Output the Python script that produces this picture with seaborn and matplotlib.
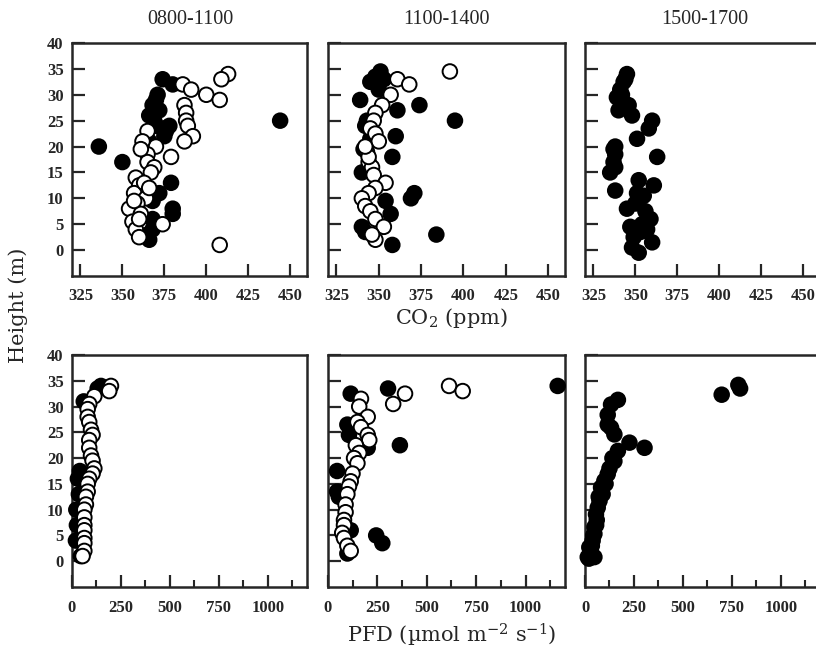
import pandas as pd
import seaborn as sns
import matplotlib.pyplot as plt
from matplotlib.ticker import MultipleLocator

periods = ['0800-1100', '1100-1400', '1500-1700']

# ---- CO2 (ppm) vs height (m) ----
co2_am_closed_x = [336, 350, 374, 444, 379, 380, 380, 366, 370, 368, 366, 374, 376, 370, 367, 368, 368, 365, 380,
                   372, 369, 375, 378, 366, 368, 372, 371]
co2_am_closed_y = [20, 17, 33, 25, 13, 8, 7, 2, 29, 28, 26, 23.5, 23, 24, 10.5, 9.5, 4, 3, 32,
                   27, 25, 22, 24, 21, 6, 11, 30]
co2_am_open_x = [413, 409, 400, 408, 386, 391, 387, 388, 388, 389, 392, 387, 379, 408, 365, 370, 365, 365,
                 369, 367, 358, 360, 357, 364, 359, 354, 361, 356, 358, 360, 374,
                 362, 361, 363, 360, 366, 357]
co2_am_open_y = [34, 33, 30, 29, 32, 31, 28, 26.5, 25, 24, 22, 21, 18, 1, 23, 20, 18.5, 17,
                 16, 15, 14, 12.5, 11, 10, 9, 8, 7, 5.5, 4, 2.5, 5,
                 21, 19.5, 13, 6, 12, 9.5]

co2_mid_closed_x = [374, 395, 371, 369, 384, 358, 339, 351, 348, 345, 353, 360, 358, 342, 341, 340, 354, 357,
                    340, 342, 361, 345, 343, 350]
co2_mid_closed_y = [28, 25, 11, 10, 3, 1, 29, 34.5, 33.5, 32.5, 33, 22, 18, 24, 19.5, 15, 9.5, 7,
                    4.5, 3.5, 27, 21.5, 25, 31]
co2_mid_open_x = [392, 361, 368, 357, 352, 348, 347, 345, 348, 350, 343, 344, 346, 347, 354, 348, 344, 340,
                  342, 345, 348, 353, 348, 346, 344, 342]
co2_mid_open_y = [34.5, 33, 32, 30, 28, 26.5, 25, 23.5, 22.5, 21, 19, 17, 16, 14.5, 13, 12, 11, 10,
                  8.5, 7.5, 6, 4.5, 2, 3, 18, 20]

co2_pm_closed_x = [345, 343, 341, 339, 342, 346, 340, 348, 360, 358, 351, 338, 338, 363, 335, 338, 338, 352,
                   361, 355, 345, 359, 347, 354, 360, 348, 352, 353, 356,
                   344, 342, 337, 337, 351, 350, 357, 349]
co2_pm_closed_y = [34, 32.5, 31, 29.5, 28.5, 28, 27, 26, 25, 23.5, 21.5, 20, 18.5, 18, 15, 16, 11.5, 13.5,
                   12.5, 10.5, 8, 6, 4.5, 5, 1.5, 0.5, -0.5, 3.5, 7.5,
                   33, 30, 17, 19.5, 11, 9, 4, 2.5]

# ---- PFD (umol m-2 s-1) vs height (m) ----
pfd_am_closed_x = [148, 131, 40, 30, 35, 22, 25, 20, 60, 45]
pfd_am_closed_y = [34, 33.5, 17.5, 16, 13, 10, 7, 4, 31, 1]
pfd_am_open_x = [199, 190, 114, 88, 80, 80, 88, 97, 105, 88, 88, 97, 105, 114, 105, 88, 80, 80, 71, 71,
                 63, 63, 63, 63, 63, 63, 63, 54]
pfd_am_open_y = [34, 33, 32, 30.5, 29.5, 28, 27, 25.5, 24.5, 23.5, 22, 20.5, 19.5, 18, 17, 16, 15, 13.5, 12.5, 11,
                 10, 8.5, 7, 6, 4.5, 3.5, 2, 1]

pfd_mid_closed_x = [1163, 304, 364, 244, 275, 115, 46, 46, 55, 98, 115, 98, 106, 201]
pfd_mid_closed_y = [34, 33.5, 22.5, 5, 3.5, 32.5, 17.5, 13.5, 12.5, 1.5, 6, 26.5, 24.5, 22]
pfd_mid_open_x = [613, 682, 390, 330, 167, 158, 201, 149, 167, 201, 209, 141, 158, 132, 149, 124, 115, 106,
                  98, 89, 89, 81, 81, 72, 81, 98, 115]
pfd_mid_open_y = [34, 33, 32.5, 30.5, 31.5, 30, 28, 27, 26, 24.5, 23.5, 22.5, 21, 20, 19, 17, 15.5, 14.5,
                  13, 11, 9.5, 8, 7, 5.5, 4.5, 3, 2]

pfd_pm_closed_x = [792, 783, 698, 227, 304, 168, 133, 116, 116, 150, 168, 150, 116, 82, 74, 56, 48, 39, 31, 48,
                   133, 99, 65, 48, 22, 14, 60, 90, 105, 125, 140, 35, 57, 70, 42, 28, 20]
pfd_pm_closed_y = [33.5, 34.2, 32.3, 23, 22, 31.3, 30.4, 28.4, 26.5, 24.6, 21.4, 19.4, 16.9, 14.3, 11.7, 9.1, 6.6, 4, 1.4, 0.8,
                   25.9, 15.6, 10.4, 5.3, 2.7, 0.8, 8, 13, 15, 18, 20, 3, 7, 12.5, 5, 2, 0.5]


def panel_frame(cx, cy, ox=(), oy=()):
    # closed symbols first so open ones sit on top
    closed = pd.DataFrame({'val': cx, 'height': cy, 'kind': 'closed'})
    opened = pd.DataFrame({'val': list(ox), 'height': list(oy), 'kind': 'open'})
    return pd.concat([closed, opened], ignore_index=True)


panels = {
    (0, 0): panel_frame(co2_am_closed_x, co2_am_closed_y, co2_am_open_x, co2_am_open_y),
    (0, 1): panel_frame(co2_mid_closed_x, co2_mid_closed_y, co2_mid_open_x, co2_mid_open_y),
    (0, 2): panel_frame(co2_pm_closed_x, co2_pm_closed_y),
    (1, 0): panel_frame(pfd_am_closed_x, pfd_am_closed_y, pfd_am_open_x, pfd_am_open_y),
    (1, 1): panel_frame(pfd_mid_closed_x, pfd_mid_closed_y, pfd_mid_open_x, pfd_mid_open_y),
    (1, 2): panel_frame(pfd_pm_closed_x, pfd_pm_closed_y),
}

sns.set_style('ticks')
plt.rcParams['font.family'] = ['Liberation Serif', 'DejaVu Serif']
plt.rcParams['mathtext.fontset'] = 'dejavuserif'

W, H = 816, 654
fig = plt.figure(figsize=(W / 100, H / 100), dpi=100)

col_px = [(72, 307), (328, 565), (585, 820)]
row_px = [(43, 276), (355, 587)]

for (r, c), df in panels.items():
    x0, x1 = col_px[c]
    y0, y1 = row_px[r]
    ax = fig.add_axes([x0 / W, 1 - y1 / H, (x1 - x0) / W, (y1 - y0) / H])
    sns.scatterplot(data=df, x='val', y='height', hue='kind', palette={'closed': 'black', 'open': 'white'},
                    edgecolor='black', linewidth=1.4, s=110, legend=False, ax=ax, zorder=3, clip_on=False)
    ax.set_ylim(-5, 40)
    ax.set_yticks(range(0, 41, 5))
    if r == 0:
        ax.set_xlim(320, 460)
        ax.set_xticks([325, 350, 375, 400, 425, 450])
    else:
        ax.set_xlim(0, 1200)
        ax.set_xticks([0, 250, 500, 750, 1000])
        ax.xaxis.set_minor_locator(MultipleLocator(125))
        ax.tick_params(axis='x', which='minor', direction='in', length=5, width=1.5)
    ax.set_xlabel('')
    ax.set_ylabel('')
    ax.tick_params(axis='both', which='major', direction='in', length=9, width=1.6, labelsize=12)
    ax.tick_params(axis='x', pad=9)
    ax.tick_params(axis='y', pad=6, labelleft=(c == 0))
    for lab in ax.get_xticklabels() + ax.get_yticklabels():
        lab.set_fontweight('bold')
    for sp in ax.spines.values():
        sp.set_linewidth(1.8)
        sp.set_visible(True)

title_x = [190, 446, 705]
for t, cx in zip(periods, title_x):
    fig.text(cx / W, 1 - 20 / H, t, ha='center', va='center', fontsize=14.5)

fig.text(18 / W, 1 - 305 / H, 'Height (m)', rotation=90, ha='center', va='center',
         fontsize=15, family='DejaVu Serif')
fig.text(451 / W, 1 - 318 / H, 'CO$_2$ (ppm)', ha='center', va='center', fontsize=15, family='DejaVu Serif')
fig.text(452 / W, 1 - 635 / H, 'PFD (\u00b5mol m$^{-2}$ s$^{-1}$)', ha='center', va='center',
         fontsize=15, family='DejaVu Serif')

fig.savefig('out.png', dpi=100)
